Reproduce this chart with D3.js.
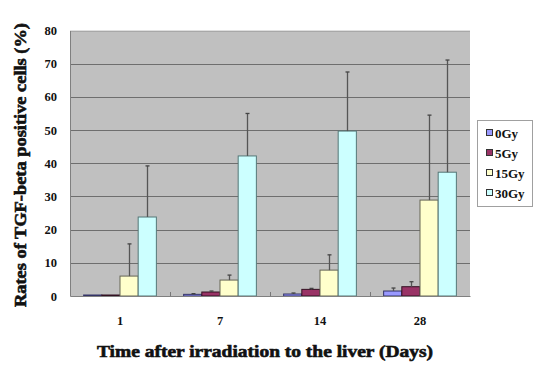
<!DOCTYPE html>
<html><head><meta charset="utf-8">
<script src="https://cdn.jsdelivr.net/npm/d3@7"></script>
<style>
html,body{margin:0;padding:0;background:#fff;}
svg text{font-family:"Liberation Serif","Times New Roman",serif;font-weight:bold;fill:#111;}
</style></head>
<body><svg id="c" width="533" height="365"></svg>
<script>
const categories = ["1","7","14","28"];
const seriesNames = ["0Gy","5Gy","15Gy","30Gy"];
const values0 = [0.3, 0.5, 0.6, 1.5];
const values5 = [0.3, 1.2, 2.0, 2.8];
const values15 = [6.0, 4.8, 7.8, 28.9];
const values30 = [23.8, 42.2, 49.7, 37.3];
const err0 = [0.0, 0.2, 0.3, 0.9];
const err5 = [0.0, 0.3, 0.3, 1.5];
const err15 = [9.7, 1.5, 4.6, 25.6];
const err30 = [15.4, 12.8, 17.8, 33.8];
const yTicks = [0,10,20,30,40,50,60,70,80];
const colors = ["#9999FF","#993366","#FFFFCC","#CCFFFF"];
const strokes = ["#333366","#331122","#666655","#557777"];

const values = [values0, values5, values15, values30];
const errs = [err0, err5, err15, err30];

const svg = d3.select("#c");
const L = 70, R = 470, T = 30.5, B = 296;
const x0 = d3.scaleBand().domain(categories).range([L, R]).paddingInner(0).paddingOuter(0);
// Excel gap width 150%: bar width = band/(n+1.5)
const bw = x0.bandwidth()/(seriesNames.length+1.5);
const off = bw*0.75;
const y = d3.scaleLinear().domain([0,80]).range([B, T]);

// plot area
svg.append("rect").attr("x",L).attr("y",T).attr("width",R-L).attr("height",B-T).attr("fill","#C0C0C0");
// grid
svg.append("g").selectAll("line").data(yTicks.filter(d=>d>0)).join("line")
  .attr("x1",L).attr("x2",R).attr("y1",d=>Math.round(y(d))+0.5).attr("y2",d=>Math.round(y(d))+0.5)
  .attr("stroke",d=>d===80?"#a8a8a8":"#6e6e6e").attr("stroke-width",1);

// bars
const g = svg.append("g");
seriesNames.forEach((s,si)=>{
  categories.forEach((c,ci)=>{
    const v = values[si][ci];
    const bx = x0(c)+off+si*bw;
    g.append("rect").attr("x",bx).attr("y",y(v)).attr("width",bw).attr("height",Math.max(B-y(v),0.5))
      .attr("fill",colors[si]).attr("stroke",strokes[si]).attr("stroke-width",1);
  });
});
// error bars
seriesNames.forEach((s,si)=>{
  categories.forEach((c,ci)=>{
    const v = values[si][ci], e = errs[si][ci];
    if (e<=0) return;
    const cx = Math.round(x0(c)+off+si*bw+bw/2)+0.5;
    g.append("line").attr("x1",cx).attr("x2",cx).attr("y1",y(v)).attr("y2",y(v+e))
      .attr("stroke","#555").attr("stroke-width",1.3);
    g.append("line").attr("x1",cx-2).attr("x2",cx+2).attr("y1",y(v+e)).attr("y2",y(v+e))
      .attr("stroke","#444").attr("stroke-width",1.3);
  });
});

// axes
const yAxis = d3.axisLeft(y).tickValues(yTicks).tickSize(0).tickPadding(13);
const ya = svg.append("g").attr("transform",`translate(${L},0)`).call(yAxis);
ya.select(".domain").attr("stroke","#808080");
ya.selectAll("text").attr("font-size","12.5px").style("font-family","Liberation Serif").style("font-weight","bold");

const xAxis = d3.axisBottom(x0).tickSize(0).tickPadding(20);
const xa = svg.append("g").attr("transform",`translate(0,${B})`).call(xAxis);
xa.select(".domain").attr("stroke","#808080");
xa.selectAll("text").attr("font-size","12.5px").style("font-family","Liberation Serif").style("font-weight","bold");
// inner category ticks
svg.append("g").selectAll("line").data(categories.slice(1)).join("line")
  .attr("x1",d=>Math.round(x0(d))+0.5).attr("x2",d=>Math.round(x0(d))+0.5).attr("y1",B).attr("y2",B-4)
  .attr("stroke","#777");

// titles
svg.append("text").attr("transform","translate(26,165) rotate(-90)").attr("text-anchor","middle")
  .attr("font-size","16.5px").attr("stroke","#111").attr("stroke-width",0.6)
  .attr("textLength",284).attr("lengthAdjust","spacingAndGlyphs")
  .text("Rates of TGF-beta positive cells (%)");
svg.append("text").attr("x",265).attr("y",357).attr("text-anchor","middle")
  .attr("font-size","16.5px").attr("stroke","#111").attr("stroke-width",0.6)
  .attr("textLength",336).attr("lengthAdjust","spacingAndGlyphs")
  .text("Time after irradiation to the liver (Days)");

// legend
const lg = svg.append("g");
lg.append("rect").attr("x",477.5).attr("y",120.5).attr("width",55).attr("height",86)
  .attr("fill","#fff").attr("stroke","#a0a0a0");
seriesNames.forEach((s,i)=>{
  const yy = 133 + i*20;
  lg.append("rect").attr("x",486.5).attr("y",yy-3.5).attr("width",6).attr("height",6)
    .attr("fill",colors[i]).attr("stroke","#333");
  lg.append("text").attr("x",495).attr("y",yy+4.5).attr("font-size","13px").text(s);
});
</script></body></html>
